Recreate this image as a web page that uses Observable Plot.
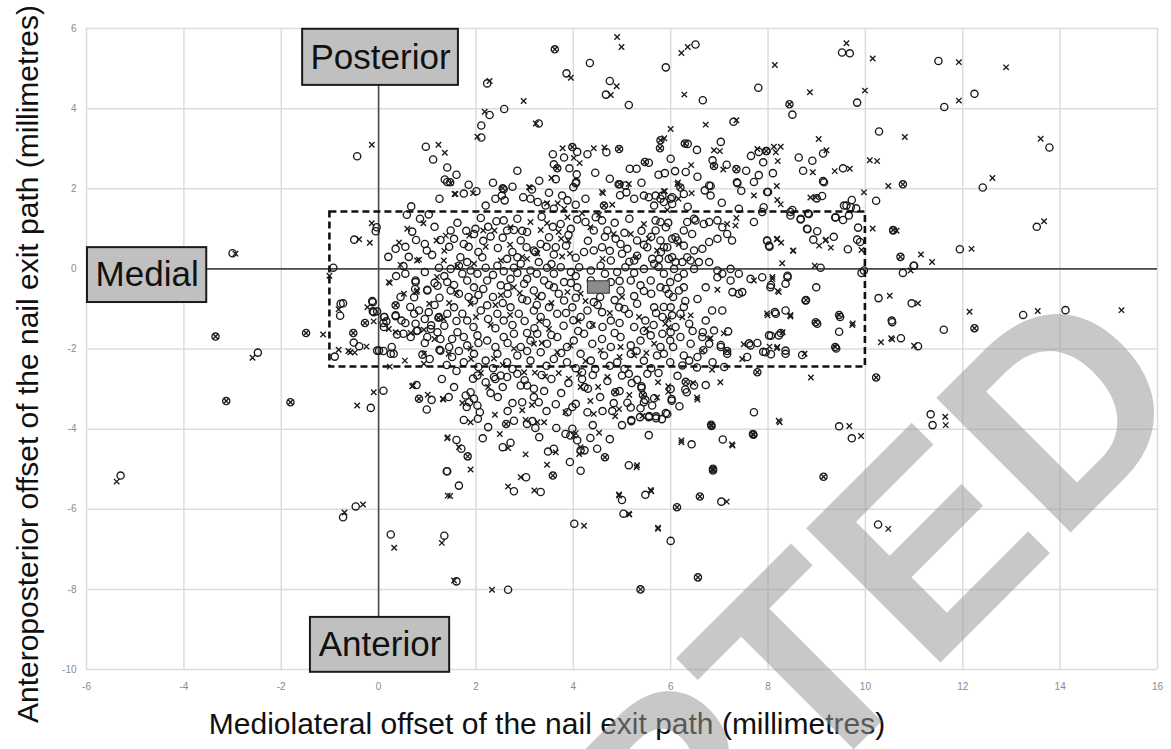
<!DOCTYPE html>
<html>
<head>
<meta charset="utf-8">
<script src="https://cdn.jsdelivr.net/npm/d3@7"></script>
<script src="https://cdn.jsdelivr.net/npm/@observablehq/plot@0.6"></script>
<style>
html,body{margin:0;padding:0;background:#fff;}
#chart svg{display:block;}
</style>
</head>
<body>
<div id="chart"></div>
<script>
// ---------- tick labels / titles ----------
const xTicks = [-6,-4,-2,0,2,4,6,8,10,12,14,16];
const yTicks = [-10,-8,-6,-4,-2,0,2,4,6];
const xTitle = "Mediolateral offset of the nail exit path (millimetres)";
const yTitle = "Anteroposterior offset of the nail exit path (millimetres)";

// ---------- annotation boxes (data units) ----------
const labelNames = ["Posterior","Medial","Anterior"];
const labelX1 = [-1.56,-5.98,-1.40];
const labelX2 = [1.64,-3.53,1.46];
const labelY1 = [5.98,0.53,-8.70];
const labelY2 = [4.58,-0.84,-10.07];
const targetX = [-1,10];
const targetY = [-2.45,1.42];
const meanX = [4.30,4.75];
const meanY = [-0.62,-0.31];
const watermark = "ACCEPTED";

// ---------- series: open circles ----------
const circlePoints = [
[-5.30,-5.16],[-3.00,0.39],[-2.48,-2.09],[-0.93,0.03],[-0.73,-0.86],[-0.79,-1.17],[-0.51,-1.84],[-0.44,2.81],[-0.04,1.04],[-0.06,0.94],[-0.50,0.73],[0.10,-3.04],[-0.16,-3.47],[-0.47,-5.93],[-0.73,-6.20],[0.25,-6.63],[1.35,-6.66],[1.40,-5.05],[0.78,-2.90],[1.09,-3.27],[0.99,-3.51],[1.44,-3.20],[-0.40,-1.93],[-0.90,-2.19],[-0.03,-2.04],[0.10,-2.05],[0.27,-1.95],[0.25,-2.12],[-0.12,-0.83],[-0.12,-1.06],[-0.03,-1.06],[0.10,-1.35],[0.12,-1.20],[0.16,-1.31],[0.35,-1.18],[0.47,-1.29],[0.36,-0.18],[0.51,0.07],[0.73,-0.71],[0.76,-0.33],[1.00,-0.52],[0.83,-1.04],[1.03,-1.08],[0.51,-1.62],[0.78,-1.55],[1.07,-1.50],[1.25,-2.02],[0.90,-2.14],
[6.51,5.60],[4.34,5.14],[5.90,5.03],[3.86,4.88],[4.75,4.69],[2.23,4.63],[7.80,4.52],[4.67,4.35],[6.66,4.21],[5.14,4.09],[2.58,3.99],[2.28,3.84],[3.29,3.63],[2.11,3.58],[2.11,3.28],[7.29,3.67],[0.97,3.05],[1.12,2.73],[1.41,2.53],[1.36,2.23],[1.47,2.16],[3.58,2.86],[4.08,2.92],[3.81,2.78],[3.60,2.61],[3.92,2.51],[4.07,2.36],[4.06,2.17],[3.64,2.24],[4.29,2.86],[4.68,2.91],[5.16,2.50],[5.30,2.50],[5.55,2.65],[6.35,3.12],[6.54,2.97],[7.03,3.17],[6.86,2.71],[5.88,2.39],[6.09,2.44],[6.31,2.42],[7.65,2.82],[7.81,2.92],[7.90,2.66],[7.81,2.34],[7.71,2.17],[7.36,2.16],[8.00,1.92],[4.93,2.11],[4.96,1.84],[5.09,1.91],[2.57,1.99],[1.75,1.88],[2.01,1.94],[6.20,2.03],[6.82,2.07],[6.70,1.96],
[9.52,5.40],[9.68,5.38],[11.50,5.19],[8.50,3.85],[9.83,4.15],[11.62,4.04],[12.24,4.37],[10.28,3.43],[9.13,2.88],[8.91,2.70],[8.63,2.78],[8.72,2.45],[7.97,2.94],[8.10,2.39],[9.54,2.51],[9.13,2.19],[12.41,2.03],[13.78,3.03],[13.52,1.05],[10.22,1.70],[9.00,1.76],[9.11,1.82],[9.72,1.72],[9.61,1.58],[9.81,1.51],[9.54,1.22],[9.38,1.28],[8.50,1.47],[8.46,1.33],[8.82,1.38],[8.67,1.23],[9.85,1.03],[8.81,0.99],[9.01,0.94],[8.93,0.73],[9.35,0.80],[9.83,0.73],[9.64,0.49],[7.98,0.70],[8.03,0.55],[10.99,0.08],[10.77,-0.10],[11.94,0.49],[9.08,0.03],[9.92,-0.10],[8.40,-0.17],[11.00,0.08],
[10.27,-0.73],[10.95,-0.86],[13.24,-1.15],[14.11,-1.03],[10.54,-1.29],[11.61,-1.52],[10.73,-1.73],[11.08,-1.93],[11.34,-3.63],[11.38,-3.90],[9.46,-3.93],[9.72,-4.23],[7.71,-3.58],[6.43,-4.38],[7.07,-4.26],[5.14,-4.90],[3.93,-4.82],[4.15,-5.04],[5.00,-5.77],[5.48,-5.64],[7.04,-5.81],[5.03,-6.11],[4.02,-6.36],[6.00,-6.79],[10.26,-6.38],[8.06,-0.40],[8.36,-0.37],[9.46,-1.57],[8.70,-2.15],[8.14,-1.08],[8.36,-1.04],[7.78,-1.85],[7.61,-1.86],[8.36,-2.04],[7.90,-2.07],[8.06,-2.13],[8.26,-1.60],[8.06,-1.67],[7.18,-1.56],[7.03,-1.90],[6.66,-1.58],[6.67,-2.03],[6.86,-2.33],[7.10,-2.45],[6.54,-2.46],[6.14,-2.67],[6.72,-2.90],[6.30,-3.01],[6.02,-3.25],[6.18,-3.43],[5.82,-3.75],[5.90,-3.60],[5.40,-2.93],[5.48,-3.27],[5.66,-3.23],[5.18,-3.46],[5.19,-3.77],[5.38,-3.48],[5.56,-3.67],[5.70,-3.68],[10.55,-1.33],
[1.79,-3.16],[1.89,-3.08],[1.96,-3.24],[1.81,-3.45],[2.03,-3.41],[2.08,-3.58],[1.75,-3.77],[2.04,-3.74],[1.86,-3.33],[1.94,-2.74],[2.03,-2.66],[2.20,-2.83],[2.30,-3.10],[2.37,-2.70],[2.51,-2.66],[2.64,-2.70],[2.78,-3.79],[2.75,-3.35],[2.95,-3.33],[2.92,-2.91],[3.05,-2.91],[3.19,-2.99],[3.19,-3.20],[3.29,-3.33],[3.40,-3.05],[3.05,-3.87],[3.16,-3.80],[3.22,-3.97],[3.64,-3.38],[3.65,-3.97],[2.14,-4.23],[1.60,-4.27],[1.70,-4.49],[1.41,-5.05],[1.65,-5.41],[2.55,-4.45],[2.71,-4.34],[3.48,-4.56],[3.60,-4.49],[3.03,-5.20],[2.78,-5.55],[3.33,-5.57],[3.98,-3.99],[4.08,-4.28],[4.15,-4.53],[4.23,-4.53],[4.35,-4.22],[4.49,-4.49],[1.60,-7.80],[2.66,-8.01],
[4.18,-2.75],[4.18,-2.58],[4.30,-2.99],[4.23,-2.95],[4.80,-3.55],[4.83,-3.35],[5.11,-3.34],[5.19,-3.80],[5.37,-3.70],[5.31,-2.77],[5.40,-2.97],[5.55,-3.70],[5.70,-3.73],[5.62,-3.41],[5.45,-3.33],[5.52,-2.62],[5.00,-2.66],[5.14,-2.62],[5.93,-3.62],[6.02,-3.29],[6.33,-3.08],[6.48,-2.91],[3.88,-3.58],[3.98,-3.45],[4.05,-3.37],[4.29,-3.58],[3.84,-4.12],[3.94,-4.16],
[1.41,2.17],[2.40,1.75],[2.53,1.83],[2.59,1.71],[2.20,1.58],[2.97,1.79],[3.12,1.75],[3.27,1.67],[3.43,1.58],[3.60,1.50],[3.77,1.83],[3.88,1.71],[4.05,1.60],[4.00,2.04],[4.05,2.14],[5.07,2.08],[5.25,1.75],[5.45,1.83],[5.55,1.79],[5.83,1.83],[6.00,1.75],[5.66,1.58],[6.03,1.62],
[0.67,1.56],[1.03,1.36],[0.58,1.35],[0.69,0.93],[0.77,0.72],[0.35,0.50],[1.48,0.96],[1.27,0.72],[0.95,0.62],[0.99,0.46],[2.10,1.27],[1.99,1.00],[1.96,0.87],[2.30,0.81],[2.42,1.19],[2.57,1.21],[2.64,0.96],[2.78,0.97],[2.92,0.71],[3.04,0.54],[3.19,0.46],[3.33,0.62],[3.50,0.79],[3.64,0.54],[3.74,1.12],[3.95,1.00],[4.08,1.23],[4.25,1.17],[4.42,0.96],[4.46,1.29],[4.59,1.21],[4.70,0.96],[4.87,0.75],[4.97,0.62],[5.11,0.50],[5.31,0.71],[5.52,0.54],[5.69,0.96],[5.79,0.71],[5.93,0.54],[6.10,0.79],[6.27,0.96],[6.44,0.87],[6.51,1.21],
[0.76,-0.29],[0.75,-0.50],[1.00,-0.54],[1.21,-0.42],[1.41,-0.33],[1.48,-0.54],[1.24,0.03],[1.48,0.00],[1.65,0.08],[1.82,0.17],[1.89,-0.04],[2.03,-0.12],[2.20,0.03],[2.44,0.08],[2.57,-0.06],[2.78,0.03],[2.92,0.13],[3.12,-0.04],[3.29,0.17],[3.46,0.03],[3.60,-0.12],[3.74,0.04],[3.95,-0.08],[4.12,0.04],[4.36,-0.04],[4.56,0.08],[4.77,0.21],[4.90,-0.08],[5.07,0.04],[5.25,0.21],[5.45,0.00],[5.66,0.13],[5.86,-0.12],[6.07,0.00],[6.27,-0.12],[6.48,0.00],[1.68,0.29],[2.13,0.29],[2.64,0.25],[2.85,0.29],[3.22,0.42],[3.60,0.36],[4.22,0.42],[4.42,0.46],[4.59,0.54],[5.00,0.38],[5.31,0.33],[5.62,0.25],[6.03,0.29],[6.34,0.29],[1.82,-0.29],[1.96,-0.46],[2.23,-0.29],[2.51,-0.41],[2.71,-0.25],[2.99,-0.37],[3.19,-0.54],[3.40,-0.29],[3.60,-0.46],[3.81,-0.33],[4.08,-0.46],[4.36,-0.29],[4.56,-0.50],[4.77,-0.33],[4.97,-0.54],[5.18,-0.29],[5.38,-0.41],[5.59,-0.29],[5.79,-0.46],[5.99,-0.33],[6.27,-0.46],
[-0.78,-0.87],[-0.13,-0.80],[-0.10,-1.08],[0.11,-1.20],[0.35,-1.16],[0.11,-1.45],[0.38,-1.64],[0.73,-1.12],[0.76,-1.37],[1.08,-1.41],[1.24,-1.20],[1.41,-1.12],[1.55,-0.96],[1.72,-1.12],[1.82,-1.29],[1.96,-0.79],[2.10,-1.04],[2.23,-0.91],[2.44,-1.12],[2.57,-1.29],[2.71,-0.96],[2.88,-1.12],[3.05,-0.79],[3.19,-1.04],[3.33,-1.20],[3.50,-0.96],[3.67,-1.12],[3.81,-0.79],[3.98,-0.96],[4.15,-1.20],[4.29,-1.04],[4.42,-0.83],[4.59,-1.08],[4.77,-1.29],[4.94,-0.96],[5.14,-1.12],[5.31,-0.87],[5.48,-1.29],[5.66,-0.96],[5.83,-1.20],[6.00,-0.96],[6.20,-1.12],[6.38,-1.37],
[0.01,-2.04],[0.31,-2.12],[0.66,-1.70],[0.80,-1.54],[1.00,-1.70],[1.21,-1.58],[1.27,-1.75],[1.51,-1.75],[1.62,-1.58],[1.75,-1.70],[1.82,-1.91],[2.03,-1.66],[2.23,-1.79],[2.40,-1.95],[2.57,-1.70],[2.78,-1.62],[2.92,-1.95],[3.12,-1.79],[3.26,-1.62],[3.46,-1.87],[3.67,-1.70],[3.87,-1.95],[4.01,-1.79],[4.22,-1.62],[4.39,-1.87],[4.59,-1.75],[4.77,-1.95],[4.97,-1.70],[5.18,-1.91],[5.38,-1.79],[5.59,-1.66],[5.79,-1.95],[5.99,-1.79],[6.20,-1.70],[6.41,-1.87],
[1.27,-2.04],[1.51,-2.20],[1.75,-2.33],[1.96,-2.12],[2.20,-2.29],[2.44,-2.12],[2.64,-2.33],[2.85,-2.16],[3.12,-2.29],[3.33,-2.08],[3.60,-2.25],[3.87,-2.33],[4.15,-2.12],[4.36,-2.29],[4.63,-2.16],[4.90,-2.33],[5.18,-2.12],[5.45,-2.29],[5.72,-2.16],[5.99,-2.33],[6.27,-2.16],
[5.69,1.21],[5.79,1.17],[5.90,1.04],[6.34,1.17],[6.48,1.25],[6.68,1.12],[6.79,1.17],[6.96,1.21],[7.06,1.04],[7.16,0.87],[7.26,0.71],[6.96,0.75],[6.79,0.67],[6.65,0.50],[6.48,0.46],[6.27,0.58],[6.14,0.71],[6.03,0.75],[5.86,0.54],[5.76,0.25],[5.96,0.25],[6.10,0.17],[6.24,0.17],[6.41,0.21],[6.58,0.17],[6.79,0.17],[6.96,-0.04],[7.06,-0.12],[7.23,0.00],[7.40,-0.12],[7.23,-0.29],[7.71,1.17],[7.88,1.42],[7.98,0.71],[8.02,0.58],[8.46,1.42],[8.67,1.25],[8.84,1.37],[8.80,1.00],[9.39,1.29],[9.66,1.33],[9.70,1.54],[9.56,1.58],[9.89,0.67],[9.97,-0.04],[7.98,1.92],[7.91,1.54],[7.37,2.14],[6.79,2.08],[6.82,1.83],[6.27,1.87],[6.03,1.79],[5.86,1.67],[5.79,1.75],[5.69,1.83],[9.15,2.16],[10.57,0.96],
[7.88,-0.21],[8.05,-0.46],[8.40,-0.21],[7.64,-0.25],[7.40,-0.62],[7.27,-0.58],[6.96,-0.21],[6.72,-0.46],[6.17,-0.54],[5.96,-0.62],[5.86,-0.95],[6.03,-1.16],[6.27,-0.95],[6.10,-1.45],[5.83,-1.62],[6.00,-1.58],[5.86,-2.12],[6.24,-2.41],[6.38,-2.29],[6.55,-2.20],[6.65,-1.70],[6.79,-1.87],[7.03,-1.95],[7.16,-2.12],[6.89,-1.54],[6.85,-1.04],[7.06,-1.04],[6.72,-1.29],[7.47,-0.58],[7.64,-1.91],[7.57,-2.20],[7.95,-2.08],[8.22,-1.66],[8.36,-2.12],[8.16,-1.12],[8.02,-1.66],[8.77,-0.79],[8.99,-0.46],[9.01,-1.37],[9.48,-1.20],[9.40,-1.99],
[0.85,1.25],[1.15,1.05],[1.62,1.15],[1.80,0.95],[2.25,1.05],[2.85,1.25],[3.05,0.92],[3.35,1.30],[3.58,1.05],[4.85,1.15],[5.15,1.25],[5.40,0.95],[5.95,1.15],
[0.55,0.55],[1.10,0.35],[1.45,0.55],[1.85,0.55],[2.05,0.42],[2.45,0.52],[2.75,0.42],[3.85,0.58],[4.05,0.28],[4.75,0.45],[5.15,0.18],[5.45,0.60],[5.80,0.42],
[0.55,-0.12],[0.95,-0.08],[1.35,-0.18],[1.72,-0.12],[2.35,-0.15],[2.85,-0.10],[3.25,-0.12],[3.55,0.12],[4.05,-0.18],[4.65,-0.12],[5.25,-0.10],[5.75,0.05],[6.15,-0.22],
[0.45,-0.70],[1.25,-0.72],[1.65,-0.62],[2.05,-0.65],[2.35,-0.70],[2.65,-0.62],[2.95,-0.75],[3.35,-0.68],[3.70,-0.62],[4.05,-0.72],[4.55,-0.70],[4.85,-0.78],[5.25,-0.68],[5.60,-0.62],[6.05,-0.70],[6.55,-0.75],
[0.55,-1.35],[0.95,-1.25],[1.35,-1.42],[1.60,-1.30],[1.95,-1.45],[2.25,-1.25],[2.40,-1.48],[2.75,-1.40],[3.00,-1.30],[3.20,-1.48],[3.45,-1.35],[3.80,-1.42],[4.00,-1.28],[4.35,-1.40],[4.60,-1.45],[4.95,-1.35],[5.25,-1.45],[5.65,-1.40],[6.45,-1.55],
[1.05,-2.25],[1.40,-2.40],[1.65,-2.05],[2.05,-2.45],[2.35,-2.48],[2.75,-2.50],[3.05,-2.05],[3.45,-2.42],[3.75,-2.10],[4.05,-2.48],[4.45,-2.50],[4.75,-2.42],[5.05,-2.50],[5.30,-2.05],[5.60,-2.48],
[1.30,-2.75],[1.55,-2.95],[2.55,-2.95],[2.85,-2.62],[3.55,-2.75],[3.75,-3.10],[3.35,-2.65],[4.55,-3.20],[4.70,-2.80],[4.95,-3.05],
[1.25,1.75],[1.60,2.35],[1.85,2.10],[2.35,2.15],[2.75,2.05],[2.85,2.45],[3.30,2.20],[3.15,1.98],[4.45,2.40],[4.75,2.25],[5.40,2.15],[5.75,2.35],[6.00,2.75],[6.55,2.30],[7.15,2.60],[7.45,1.95],[7.55,2.45],[6.35,1.55],[7.05,1.65],[7.40,1.50],[3.50,1.90],[4.25,1.75],
[1.55,0.75],[1.75,0.62],[2.15,0.70],[2.55,0.78],[2.95,0.95],[3.45,0.55],[3.90,0.85],[4.30,0.70],[4.65,0.80],[5.05,0.90],[5.60,0.80],
[1.15,-0.35],[1.55,-0.40],[2.15,-0.50],[2.65,-0.45],[3.05,-0.25],[3.50,-0.40],[3.95,-0.35],[4.95,-0.30],[5.45,-0.55],[5.90,-0.50],
[0.65,-0.95],[1.15,-0.90],[1.85,-0.70],[2.55,-0.85],[3.25,-0.90],[3.85,-1.10],[4.50,-0.90],[5.05,-1.00],[5.70,-1.10],[6.30,-0.80],
[0.95,-1.85],[1.45,-1.95],[2.05,-1.85],[2.65,-1.85],[3.05,-1.60],[3.55,-1.65],[4.10,-1.55],[4.85,-1.60],[5.45,-1.55],[6.05,-1.95],
[1.60,-2.55],[2.40,-2.75],[3.00,-2.78],[3.90,-2.85],[4.40,-2.65],[5.20,-2.85],[5.75,-2.60],[6.00,-3.00],
[2.45,-3.20],[2.65,-3.55],[3.45,-3.55],[4.60,-3.55],[5.00,-3.90],[4.40,-3.90],[2.25,-3.95],[3.30,-4.20],[4.75,-4.25],[5.55,-4.15],
[0.20,0.30],[0.62,0.30]
];

// ---------- series: crosses ----------
const crossPoints = [
[-5.38,-5.31],[-2.94,0.38],[-2.59,-2.22],[-1.14,-1.64],[-1.01,-0.17],[-0.82,-1.01],[-0.44,-3.41],[-0.14,3.10],[-0.14,1.14],[-0.40,0.74],[-0.18,0.65],[-0.10,-3.08],[-0.32,-5.88],[-0.70,-6.08],[0.32,-6.96],[1.30,-6.84],[1.42,-5.66],[1.42,-4.20],[0.69,-2.93],[1.01,-3.14],[1.32,-3.24],[0.54,-2.29],[0.23,-2.44],[-0.25,-1.94],[-0.82,-2.02],[-0.62,-2.05],[-0.49,-2.09],[-0.10,-1.31],[0.23,-0.35],[0.45,0.10],[1.04,-0.87],[0.35,-1.58],[0.66,-1.60],[0.93,-1.52],[0.78,-0.58],[0.93,-2.12],
[4.90,5.79],[4.99,5.54],[6.35,5.54],[6.22,5.39],[8.14,5.09],[3.95,4.77],[2.28,4.69],[4.89,4.56],[6.28,4.35],[2.98,4.19],[4.77,4.34],[2.18,3.92],[3.23,3.63],[2.03,3.30],[6.00,3.49],[6.72,3.60],[7.35,3.71],[1.23,3.10],[1.36,2.90],[3.78,3.01],[4.01,2.77],[4.13,2.64],[3.55,2.27],[4.42,3.01],[4.64,3.03],[5.87,3.26],[6.89,2.96],[7.01,2.94],[7.08,2.48],[6.42,2.59],[7.78,2.99],[5.14,2.12],[4.61,1.89],[3.11,2.03],[1.58,1.87],[5.86,1.94],
[9.61,5.63],[10.15,5.25],[11.92,5.16],[12.89,5.03],[8.86,4.41],[9.99,4.45],[11.92,4.20],[10.81,3.29],[9.04,3.24],[9.20,2.96],[8.12,3.05],[8.26,3.05],[8.16,2.91],[8.20,2.69],[8.18,2.07],[8.92,2.41],[9.68,2.50],[9.37,2.44],[10.09,2.71],[10.24,2.69],[10.47,2.07],[12.61,2.27],[13.60,3.25],[13.67,1.19],[9.97,1.91],[8.87,1.78],[10.15,1.01],[10.64,0.95],[9.19,0.73],[9.05,0.58],[9.29,0.53],[8.51,0.45],[9.92,0.47],[11.14,0.36],[11.37,0.17],[12.18,0.50],[8.29,0.14],[8.96,0.08],[8.18,0.74],[8.27,0.65],[8.09,-0.20],
[10.50,-0.67],[11.08,-0.86],[12.14,-1.07],[13.54,-1.05],[15.26,-1.03],[10.32,-1.83],[10.53,-1.73],[11.00,-1.92],[8.88,-2.71],[11.64,-3.69],[11.65,-3.90],[9.67,-3.92],[9.91,-4.17],[8.22,-3.79],[6.22,-4.28],[7.26,-4.38],[5.31,-4.90],[4.94,-5.63],[5.59,-5.52],[7.15,-5.81],[5.14,-6.11],[4.22,-6.41],[5.74,-6.46],[10.47,-6.49],[8.20,-0.55],[9.74,-1.36],[8.75,-2.12],[7.98,-1.11],[8.46,-1.15],[7.50,-1.88],[8.03,-1.94],[8.18,-1.98],[8.30,-1.58],[6.82,-1.73],[6.46,-2.85],[6.54,-3.21],[7.02,-2.83],[5.74,-2.83],[5.95,-2.93],[5.95,-3.07],[5.72,-3.21],[4.86,-3.68],[5.42,-3.67],[4.94,-3.50],[10.93,-0.04],[10.55,-1.76],
[0.71,-2.91],[1.33,-3.26],[1.72,-3.35],[1.89,-3.83],[2.39,-3.64],[2.95,-3.53],[3.02,-3.77],[3.26,-3.83],[3.40,-3.83],[3.21,-2.59],[3.42,-2.69],[2.99,-2.58],[2.49,-4.12],[3.02,-4.63],[1.41,-4.23],[1.65,-4.45],[1.89,-5.01],[1.47,-5.67],[2.66,-4.47],[3.64,-4.58],[3.46,-4.89],[2.92,-5.20],[2.66,-5.43],[3.20,-5.53],[4.05,-4.10],[4.12,-4.62],[4.53,-4.09],[5.30,-4.95],[4.94,-5.66],[5.60,-5.55],[5.15,-6.13],[5.74,-6.49],[6.22,-4.33],[7.27,-4.41],[8.24,-3.83],[1.55,-7.78],[2.33,-8.01],[4.15,-2.95],[4.51,-2.95],[6.55,-3.26],[3.91,-2.74],[4.12,-2.62],[4.42,-3.62],[3.84,-3.58],[4.01,-4.16],[4.15,-4.45],
[7.16,1.12],[7.35,1.27],[7.33,1.08],[8.19,0.75],[8.52,0.46],[9.18,0.71],[8.98,1.79],[8.19,1.72],[8.26,1.61],[7.71,1.83],[6.43,1.89],[5.88,1.94],[6.15,2.16],[7.71,-0.29],[8.09,-0.25],[8.22,-0.58],[6.96,-0.52],[6.41,-1.16],[5.89,-1.37],[5.96,-1.46],[7.09,-1.61],[6.79,-1.75],[7.99,-1.16],[8.46,-1.19],[8.19,-1.95],[7.47,-2.25],[6.85,-2.52],[9.73,-1.40],[6.65,-2.04],[6.24,-1.21],
[1.48,2.14],[1.56,1.87],[1.94,1.89],[3.09,2.04],[4.59,1.92],[0.92,1.14],[0.59,1.00],[0.42,0.66],[1.19,0.71],[1.38,0.83],[0.83,0.23],[1.86,0.83],[2.15,0.96],[2.38,0.96],[2.71,1.04],[3.12,1.17],[3.33,0.97],[3.46,1.14],[3.70,0.92],[3.88,1.29],[4.18,1.39],[4.35,1.04],[4.53,1.35],[4.83,0.87],[5.18,0.87],[5.45,1.12],[5.72,0.46],[6.17,0.62],[5.93,1.47],[6.16,1.75],[3.46,1.64],[3.68,1.64],[3.81,1.50],[6.14,2.12],[6.20,2.04],
[0.21,-0.33],[0.79,0.21],[1.34,0.21],[1.62,0.08],[1.96,0.13],[2.51,0.21],[3.05,0.25],[3.26,0.39],[3.77,0.31],[3.93,0.38],[-0.23,-0.96],[0.21,-1.50],[0.52,-0.62],[0.79,-0.54],[1.34,-1.25],[1.89,-0.87],[2.51,-0.66],[2.78,-0.46],[3.26,-0.71],[3.88,-0.58],[4.15,-0.62],[-0.58,-2.08],[0.93,-2.37],[1.44,-2.12],[1.89,-1.99],[2.37,-2.24],[2.78,-1.99],[3.19,-1.87],[3.67,-2.08],[3.94,-1.91],[4.56,-2.04],[4.97,-1.95],[5.25,-2.16],[5.66,-1.87],
[2.30,-1.40],[2.90,-0.60],[3.50,-1.50],[4.40,-1.40],[5.00,-0.70],[5.50,-1.50],[1.60,-0.60],[2.10,-2.60],[3.70,-2.60],[4.70,-2.70],[5.30,0.30],[2.70,0.60],[3.90,0.70],[4.80,1.60],[1.20,-0.20],[2.40,-0.90],[3.30,-1.30],[4.10,-1.30],
[1.35,0.45],[2.20,0.55],[2.95,0.30],[3.75,0.75],[4.60,0.25],[5.55,0.75],[1.45,-0.85],[2.00,-1.20],[2.70,-1.15],[3.55,-0.85],[4.25,-0.80],[4.75,-1.10],[5.35,-1.20],[5.95,-1.25],[1.15,-1.75],[1.90,-2.25],[2.55,-2.40],[3.35,-1.85],[4.25,-2.30],[4.95,-2.20],[5.50,-2.10],[2.25,-2.95],[3.15,-3.40],[4.35,-3.30],[5.15,-3.15]
];

// ---------- series: overlapping circle + cross ----------
const bothPoints = [
[-3.35,-1.69],[-3.13,-3.30],[-1.81,-3.33],[-1.49,-1.60],[-0.52,-1.60],[-0.28,-1.35],[0.35,-0.91],[0.83,-3.24],[1.23,-1.22],[3.62,5.48],[3.98,3.04],[3.67,2.51],[4.94,2.99],[5.47,2.67],[5.79,3.21],[5.78,3.01],[6.29,3.13],[6.89,2.57],[7.35,2.49],[7.96,2.94],[2.55,2.01],[8.44,4.11],[10.77,2.11],[10.57,0.97],[10.72,0.30],[12.24,-1.48],[10.22,-2.71],[6.83,-3.89],[7.69,-4.12],[9.14,-5.19],[6.87,-4.99],[6.60,-5.68],[6.13,-5.95],[6.56,-7.70],[5.38,-8.00],[8.78,-0.78],[9.46,-1.15],[9.38,-1.95],[8.98,-1.33],[7.16,-2.05],[7.78,-2.58],[6.31,-2.82],[5.43,-3.15],[2.62,-3.87],[1.83,-4.68],[3.58,-5.16],[4.65,-4.70],[6.84,-3.92],[6.87,-5.03],[7.70,-4.14],[4.86,-3.08],[4.63,1.58],[4.95,2.11]
];

const toObj = ([x, y]) => ({x, y});
const circles = circlePoints.concat(bothPoints).map(toObj);
const crosses = crossPoints.concat(bothPoints).map(toObj);
const labels = labelNames.map((name, i) => ({name, x1: labelX1[i], x2: labelX2[i], y1: labelY1[i], y2: labelY2[i]}));
const target = [{x1: targetX[0], x2: targetX[1], y1: targetY[0], y2: targetY[1]}];
const meanRect = [{x1: meanX[0], x2: meanX[1], y1: meanY[0], y2: meanY[1]}];

const SANS = "'Liberation Sans', Arial, sans-serif";
const TICKFONT = "'Liberation Sans Narrow', 'Liberation Sans', Arial, sans-serif";

const chart = Plot.plot({
  width: 1171,
  height: 749,
  marginLeft: 86,
  marginRight: 14,
  marginTop: 28,
  marginBottom: 80,
  x: {domain: [-6, 16]},
  y: {domain: [-10, 6]},
  style: {background: "#ffffff", fontFamily: SANS, overflow: "hidden"},
  marks: [
    Plot.gridX(xTicks, {stroke: "#dcdcdc", strokeOpacity: 1, strokeWidth: 1.5}),
    Plot.gridY(yTicks, {stroke: "#dcdcdc", strokeOpacity: 1, strokeWidth: 1.5}),
    Plot.axisX(xTicks, {tickSize: 0, tickPadding: 13, fontSize: 10, fill: "#8a8a8a", fontFamily: TICKFONT, tickFormat: d => String(d), label: null}),
    Plot.axisY(yTicks, {tickSize: 0, tickPadding: 10, fontSize: 10, fill: "#8a8a8a", fontFamily: TICKFONT, tickFormat: d => String(d), label: null}),
    Plot.ruleX([0], {stroke: "#4a4a4a", strokeWidth: 1.6}),
    Plot.ruleY([0], {stroke: "#4a4a4a", strokeWidth: 1.6}),
    Plot.dot(circles, {x: "x", y: "y", r: 3.6, stroke: "#1a1a1a", strokeWidth: 1.35, fill: "none"}),
    Plot.dot(crosses, {x: "x", y: "y", symbol: "times", r: 2.6, stroke: "#1a1a1a", strokeWidth: 1.35}),
    Plot.rect(target, {x1: "x1", x2: "x2", y1: "y1", y2: "y2", fill: "none", stroke: "#111", strokeWidth: 2.6, strokeDasharray: "7,4"}),
    Plot.rect(meanRect, {x1: "x1", x2: "x2", y1: "y1", y2: "y2", fill: "#8c8c8c", stroke: "#333", strokeWidth: 1}),
    Plot.rect(labels, {x1: "x1", x2: "x2", y1: "y1", y2: "y2", fill: "#c0c0c0", stroke: "#1a1a1a", strokeWidth: 2}),
    Plot.text(labels, {x: d => (d.x1 + d.x2) / 2, y: d => (d.y1 + d.y2) / 2, text: "name", fontSize: 35, fill: "#111", fontFamily: SANS}),
    Plot.text([xTitle], {text: d => d, frameAnchor: "bottom", textAnchor: "middle", lineAnchor: "middle", dx: -75, dy: 55, fontSize: 30, fill: "#111", fontFamily: SANS}),
    Plot.text([yTitle], {text: d => d, frameAnchor: "left", textAnchor: "middle", lineAnchor: "middle", rotate: -90, dx: -58, dy: 15, fontSize: 30, fill: "#111", fontFamily: SANS}),
    Plot.text([watermark], {text: d => d, frameAnchor: "top-left", dx: 1112, dy: 376, rotate: -45, textAnchor: "end", lineAnchor: "bottom", fontSize: 276, fontWeight: "bold", fill: "#979797", fillOpacity: 0.53, fontFamily: SANS})
  ]
});

document.getElementById("chart").appendChild(chart);
</script>
</body>
</html>
